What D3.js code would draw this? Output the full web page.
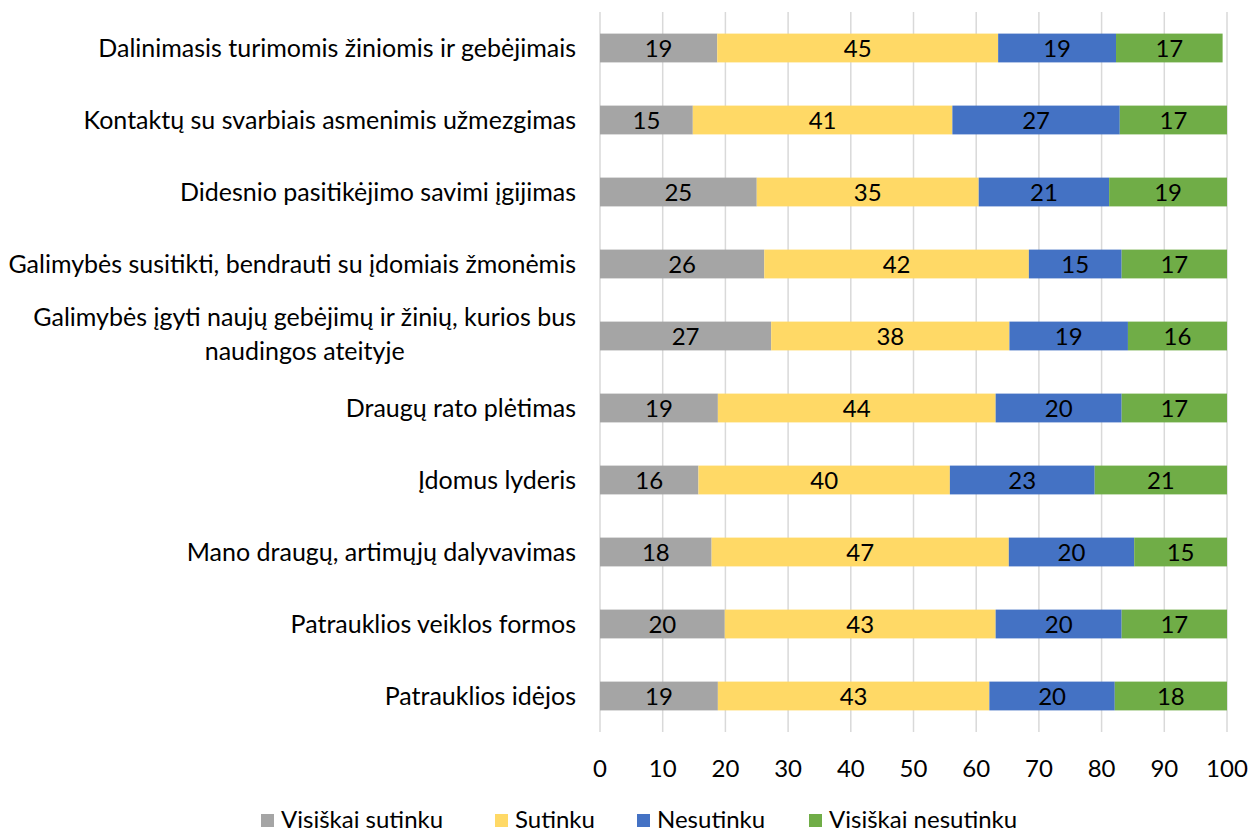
<!DOCTYPE html>
<html>
<head>
<meta charset="utf-8">
<script src="https://cdn.jsdelivr.net/npm/d3@7"></script>
<style>
  html, body { margin: 0; padding: 0; background: #fff; }
  svg { display: block; font-family: Lato, "Open Sans", sans-serif; }
</style>
</head>
<body>
<svg id="chart" width="1251" height="834"></svg>
<script>
const categories = [
  ["Dalinimasis turimomis žiniomis ir gebėjimais"],
  ["Kontaktų su svarbiais asmenimis užmezgimas"],
  ["Didesnio pasitikėjimo savimi įgijimas"],
  ["Galimybės susitikti, bendrauti su įdomiais žmonėmis"],
  ["Galimybės įgyti naujų gebėjimų ir žinių, kurios bus", "naudingos ateityje"],
  ["Draugų rato plėtimas"],
  ["Įdomus lyderis"],
  ["Mano draugų, artimųjų dalyvavimas"],
  ["Patrauklios veiklos formos"],
  ["Patrauklios idėjos"]
];
const seriesNames = ["Visiškai sutinku", "Sutinku", "Nesutinku", "Visiškai nesutinku"];
const seriesColors = ["#A5A5A5", "#FFD966", "#4472C4", "#70AD47"];
const visiskaiSutinku   = [18.7, 14.8, 25.0, 26.2, 27.3, 18.8, 15.7, 17.8, 19.9, 18.8];
const sutinku           = [44.8, 41.4, 35.4, 42.2, 38.0, 44.3, 40.1, 47.4, 43.2, 43.3];
const nesutinku         = [18.8, 26.7, 20.8, 14.8, 18.9, 20.1, 23.1, 20.0, 20.1, 20.0];
const visiskaiNesutinku = [17.0, 17.1, 18.8, 16.8, 15.8, 16.8, 21.1, 14.8, 16.8, 17.9];
const xTicks = [0, 10, 20, 30, 40, 50, 60, 70, 80, 90, 100];

const FS = 24, FSL = 25;
const svg = d3.select("#chart");
const pLeft = 600, pRight = 1227, pTop = 12, pBottom = 732;
const x = d3.scaleLinear().domain([0, 100]).range([pLeft, pRight]);
const y = d3.scaleBand().domain(d3.range(categories.length)).range([pTop, pBottom])
  .paddingInner(0.6).paddingOuter(0.3);

// gridlines
svg.append("g").selectAll("line").data(xTicks).join("line")
  .attr("x1", d => x(d)).attr("x2", d => x(d))
  .attr("y1", pTop).attr("y2", pBottom)
  .attr("stroke", "#D9D9D9").attr("stroke-width", 1.5);

// x tick labels
svg.append("g").selectAll("text").data(xTicks).join("text")
  .attr("x", d => x(d)).attr("y", 777)
  .attr("text-anchor", "middle").attr("font-size", FS).attr("fill", "#000")
  .text(d => d);

const seriesData = [visiskaiSutinku, sutinku, nesutinku, visiskaiNesutinku];
const rows = categories.map((c, i) => {
  let acc = 0;
  return seriesData.map((s, k) => {
    const seg = { row: i, k, x0: acc, x1: acc + s[i], v: s[i] };
    acc += s[i];
    return seg;
  });
}).flat();

const bars = svg.append("g");
bars.selectAll("rect").data(rows).join("rect")
  .attr("x", d => x(d.x0)).attr("width", d => x(d.x1) - x(d.x0))
  .attr("y", d => y(d.row)).attr("height", y.bandwidth())
  .attr("fill", d => seriesColors[d.k]);

bars.selectAll("text").data(rows).join("text")
  .attr("x", d => (x(d.x0) + x(d.x1)) / 2)
  .attr("y", d => y(d.row) + y.bandwidth() / 2 + 8.5)
  .attr("text-anchor", "middle").attr("font-size", FS).attr("fill", "#000")
  .text(d => d3.format(".0f")(d.v));

// category labels
const labelG = svg.append("g");
categories.forEach((lines, i) => {
  const cy = y(i) + y.bandwidth() / 2;
  if (lines.length === 1) {
    labelG.append("text").attr("x", 576).attr("y", cy + 8.5)
      .attr("text-anchor", "end").attr("font-size", FSL).text(lines[0]);
  } else {
    const t = labelG.append("text").attr("font-size", FSL).attr("text-anchor", "middle");
    const w = 540;
    lines.forEach((ln, j) => {
      t.append("tspan").attr("x", 576 - w / 2).attr("y", cy + 7 + (j - (lines.length - 1) / 2) * 34).text(ln);
    });
    const bb = t.node().getBBox();
    const shift = 576 - (bb.x + bb.width);
    t.attr("transform", `translate(${shift},0)`);
  }
});

// legend
const legendX = [261, 495, 637, 809];
const lg = svg.append("g");
seriesNames.forEach((n, k) => {
  lg.append("rect").attr("x", legendX[k]).attr("y", 814).attr("width", 13).attr("height", 13)
    .attr("fill", seriesColors[k]);
  lg.append("text").attr("x", legendX[k] + 20).attr("y", 828).attr("font-size", FS).text(n);
});
</script>
</body>
</html>
